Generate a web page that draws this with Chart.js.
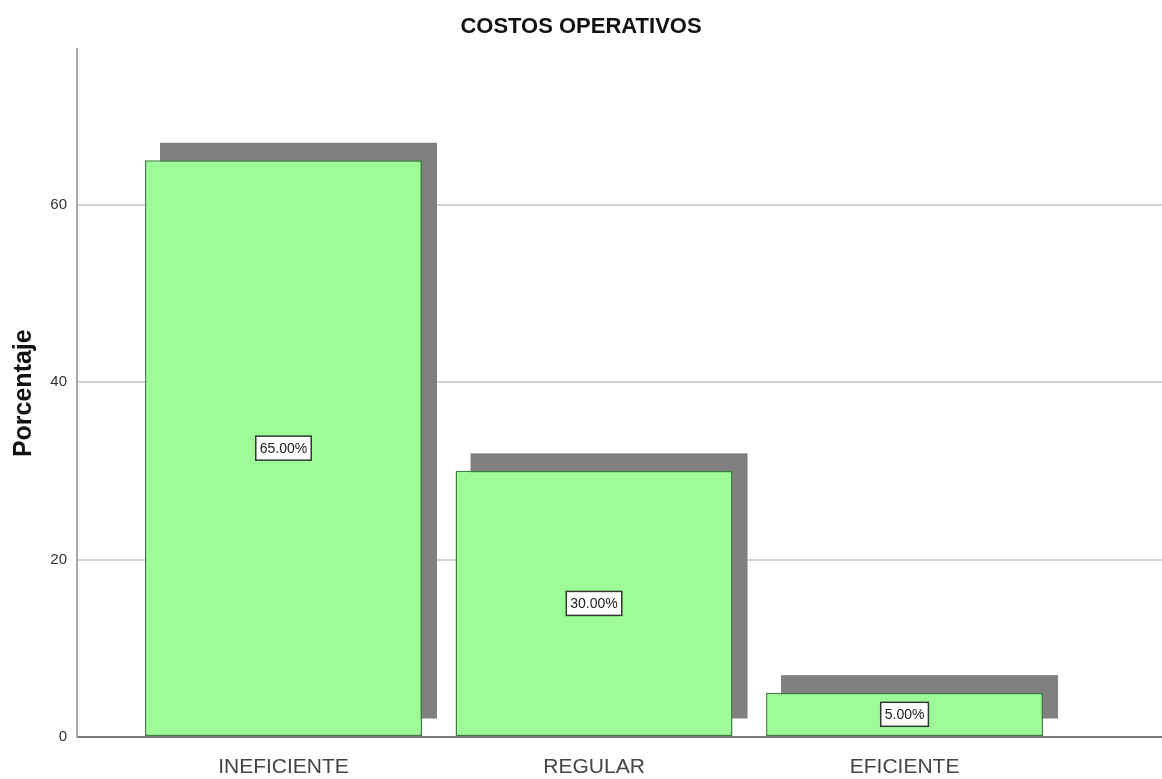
<!DOCTYPE html>
<html>
<head>
<meta charset="utf-8">
<script src="https://cdn.jsdelivr.net/npm/chart.js@4.4.1/dist/chart.umd.min.js"></script>
<style>
  body { margin: 0; background: #fff; }
  #wrap { width: 1162px; height: 779px; }
</style>
</head>
<body>
<div id="wrap"><canvas id="barChart"></canvas></div>
<script>
// valores
var categories = ["INEFICIENTE", "REGULAR", "EFICIENTE"];
var percentages = [65, 30, 5];
var yTicks = [0, 20, 40, 60];

var plain = "'Liberation Sans', Arial, sans-serif";

// sombra gris detras de cada barra
var shadowPlugin = {
    id: 'barShadow',
    beforeDatasetsDraw: function (chart) {
        var ctx = chart.ctx;
        var meta = chart.getDatasetMeta(0);
        ctx.save();
        ctx.fillStyle = 'rgb(128,128,128)';
        meta.data.forEach(function (bar) {
            var p = bar.getProps(['x', 'y', 'base', 'width'], true);
            ctx.fillRect(p.x - p.width / 2 + 15, p.y - 17.5, p.width, p.base - p.y);
        });
        ctx.restore();
    }
};

// etiquetas con recuadro blanco en el centro de cada barra
var labelPlugin = {
    id: 'boxLabels',
    afterDatasetsDraw: function (chart) {
        var ctx = chart.ctx;
        var meta = chart.getDatasetMeta(0);
        ctx.save();
        ctx.font = "14px " + plain;
        ctx.textAlign = 'center';
        ctx.textBaseline = 'middle';
        meta.data.forEach(function (bar, i) {
            var p = bar.getProps(['x', 'y', 'base'], true);
            var txt = percentages[i].toFixed(2) + '%';
            var cy = (p.y + p.base) / 2;
            var w = ctx.measureText(txt).width + 8;
            var h = 24;
            ctx.fillStyle = '#fff';
            ctx.fillRect(p.x - w / 2, cy - h / 2, w, h);
            ctx.strokeStyle = '#2f3a2f';
            ctx.lineWidth = 1.5;
            ctx.strokeRect(p.x - w / 2, cy - h / 2, w, h);
            ctx.fillStyle = '#222';
            ctx.fillText(txt, p.x, cy + 1);
        });
        ctx.restore();
    }
};

var barData = {
    datasets: [
        {
            label: "Porcentaje",
            data: percentages.map(function (v, i) { return {x: i, y: v}; }),
            backgroundColor: 'rgb(158,252,152)',
            borderColor: 'rgb(62,128,62)',
            borderWidth: 1.5,
            borderSkipped: false,
            barPercentage: 0.892,
            categoryPercentage: 1
        }
    ]
};

var barOptions = {
    responsive: true,
    maintainAspectRatio: false,
    animation: false,
    layout: { padding: 0 },
    plugins: {
        legend: { display: false },
        tooltip: { enabled: false },
        title: {
            display: true,
            text: "COSTOS OPERATIVOS",
            color: '#111',
            font: { family: plain, size: 22, weight: 'bold' },
            padding: { top: 14, bottom: 9 }
        }
    },
    scales: {
        x: {
            type: 'linear',
            offset: false,
            min: -0.665,
            max: 2.829,
            grid: { display: false, offset: false },
            border: { display: true, color: '#7a7a7a', width: 2 },
            afterBuildTicks: function (scale) {
                scale.ticks = categories.map(function (c, i) { return {value: i}; });
            },
            afterFit: function (scale) { scale.height = 42; },
            ticks: {
                autoSkip: false,
                maxRotation: 0,
                padding: 10,
                color: '#444',
                font: { family: plain, size: 21 },
                callback: function (v) { return categories[v]; }
            }
        },
        y: {
            min: 0,
            max: 77.5,
            afterBuildTicks: function (scale) {
                scale.ticks = yTicks.map(function (t) { return {value: t}; });
            },
            afterFit: function (scale) { scale.width = 77; },
            grid: { color: '#d2d2d2', lineWidth: 2, drawTicks: false },
            border: { display: true, color: '#a8a8a8', width: 2 },
            ticks: {
                padding: 10,
                color: '#333',
                font: { family: plain, size: 15 }
            },
            title: {
                display: true,
                text: "Porcentaje",
                color: '#111',
                font: { family: plain, size: 25, weight: 'bold' },
                padding: { top: 9, bottom: 0 }
            }
        }
    }
};

var ctx = document.getElementById("barChart").getContext("2d");
new Chart(ctx, {type: 'bar', data: barData, options: barOptions, plugins: [shadowPlugin, labelPlugin]});
</script>
</body>
</html>
